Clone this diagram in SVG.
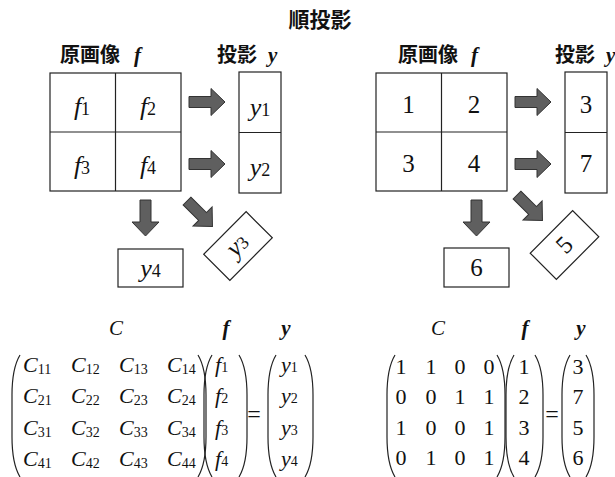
<svg xmlns="http://www.w3.org/2000/svg" width="615" height="477" viewBox="0 0 615 477">
<defs>
<style>
.cjk{font-family:"Noto Sans CJK JP","Noto Sans CJK SC",sans-serif;font-weight:bold;fill:#111}
.tm{font-family:"Liberation Serif","Times New Roman",serif;fill:#111}
.it{font-style:italic}
.bi{font-style:italic;font-weight:bold}
.sub{font-style:normal;font-size:18px}
.sm{font-style:normal;font-size:14px}
.box{fill:#fff;stroke:#222;stroke-width:1.2}
.ln{stroke:#222;stroke-width:1.2;fill:none}
.arr{fill:#5f5f5f;stroke:#333;stroke-width:1}
.par{fill:none;stroke:#222;stroke-width:1.2}
</style>
<polygon id="arrow" class="arr" points="0,-5.5 22,-5.5 22,-13.5 36,0 22,13.5 22,5.5 0,5.5"/>
</defs>
<rect width="615" height="477" fill="#fff"/>
<text class="cjk" x="320" y="27" font-size="21" text-anchor="middle">順投影</text>

<!-- Left panel -->
<g id="left-labels">
<text class="cjk" x="60" y="62" font-size="20">原画像</text>
<text class="tm bi" x="134" y="62" font-size="21">f</text>
<text class="cjk" x="217" y="62" font-size="20">投影</text>
<text class="tm bi" x="268" y="62" font-size="21">y</text>
</g>
<g id="left-grid">
<rect class="box" x="50" y="73" width="131" height="118"/>
<line class="ln" x1="115.5" y1="73" x2="115.5" y2="191"/>
<line class="ln" x1="50" y1="132" x2="181" y2="132"/>
<text class="tm it" x="82" y="115" font-size="26" text-anchor="middle">f<tspan class="sub">1</tspan></text>
<text class="tm it" x="148" y="115" font-size="26" text-anchor="middle">f<tspan class="sub">2</tspan></text>
<text class="tm it" x="82" y="174" font-size="26" text-anchor="middle">f<tspan class="sub">3</tspan></text>
<text class="tm it" x="148" y="174" font-size="26" text-anchor="middle">f<tspan class="sub">4</tspan></text>
</g>
<g id="left-y12">
<rect class="box" x="239" y="72" width="42" height="121"/>
<line class="ln" x1="239" y1="132.5" x2="281" y2="132.5"/>
<text class="tm it" x="260" y="116" font-size="26" text-anchor="middle">y<tspan class="sub">1</tspan></text>
<text class="tm it" x="260" y="176" font-size="26" text-anchor="middle">y<tspan class="sub">2</tspan></text>
</g>
<g id="left-y4">
<rect class="box" x="118" y="249" width="65" height="38"/>
<text class="tm it" x="150.5" y="277" font-size="26" text-anchor="middle">y<tspan class="sub">4</tspan></text>
</g>
<g id="left-y3" transform="translate(238,246) rotate(-45)">
<rect class="box" x="-30" y="-18.5" width="60" height="37"/>
<text class="tm it" x="0" y="7" font-size="26" text-anchor="middle">y<tspan class="sub">3</tspan></text>
</g>

<!-- Right panel -->
<g id="right-labels">
<text class="cjk" x="398" y="62" font-size="20">原画像</text>
<text class="tm bi" x="471" y="62" font-size="21">f</text>
<text class="cjk" x="555" y="62" font-size="20">投影</text>
<text class="tm bi" x="606" y="62" font-size="21">y</text>
</g>
<g id="right-grid">
<rect class="box" x="376" y="73" width="131" height="118"/>
<line class="ln" x1="441.5" y1="73" x2="441.5" y2="191"/>
<line class="ln" x1="376" y1="132" x2="507" y2="132"/>
<text class="tm" x="408.5" y="113" font-size="25" text-anchor="middle">1</text>
<text class="tm" x="474" y="113" font-size="25" text-anchor="middle">2</text>
<text class="tm" x="408.5" y="172" font-size="25" text-anchor="middle">3</text>
<text class="tm" x="474" y="172" font-size="25" text-anchor="middle">4</text>
</g>
<g id="right-y12">
<rect class="box" x="565" y="72" width="42" height="121"/>
<line class="ln" x1="565" y1="132.5" x2="607" y2="132.5"/>
<text class="tm" x="586" y="113" font-size="25" text-anchor="middle">3</text>
<text class="tm" x="586" y="172" font-size="25" text-anchor="middle">7</text>
</g>
<g id="right-y4">
<rect class="box" x="444" y="248" width="65" height="39"/>
<text class="tm" x="476.5" y="276" font-size="25" text-anchor="middle">6</text>
</g>
<g id="right-y3" transform="translate(564.5,245) rotate(-45)">
<rect class="box" x="-30" y="-18.5" width="60" height="37"/>
<text class="tm" x="0" y="8" font-size="25" text-anchor="middle">5</text>
</g>

<g id="connectors">
<use href="#arrow" transform="translate(189,102)"/>
<use href="#arrow" transform="translate(189,164)"/>
<use href="#arrow" transform="translate(145.5,200) rotate(90)"/>
<use href="#arrow" transform="translate(187,201) rotate(45)"/>
<use href="#arrow" transform="translate(515,102)"/>
<use href="#arrow" transform="translate(515,164)"/>
<use href="#arrow" transform="translate(476.5,200) rotate(90)"/>
<use href="#arrow" transform="translate(517,195) rotate(45)"/>
</g>

<!-- Left equation -->
<g id="left-eq">
<text class="tm it" x="116" y="335" font-size="21" text-anchor="middle">C</text>
<text class="tm bi" x="226" y="335" font-size="21" text-anchor="middle">f</text>
<text class="tm bi" x="286" y="335" font-size="21" text-anchor="middle">y</text>
<path class="par" d="M20,355 C14,365 12,380 12,395 L12,437 C12,452 14,467 20,477"/>
<path class="par" d="M198,355 C204,365 206,380 206,395 L206,437 C206,452 204,467 198,477"/>
<path class="par" d="M212,355 C206,365 204,380 204,395 L204,437 C204,452 206,467 212,477"/>
<path class="par" d="M239,355 C245,365 247,380 247,395 L247,437 C247,452 245,467 239,477"/>
<path class="par" d="M276,355 C270,365 268,380 268,395 L268,437 C268,452 270,467 276,477"/>
<path class="par" d="M305,355 C311,365 313,380 313,395 L313,437 C313,452 311,467 305,477"/>
<text class="tm" x="254" y="422" font-size="24" text-anchor="middle">=</text>
<g class="tm it" font-size="22">
<text x="23" y="372">C<tspan class="sm" dy="2">11</tspan></text>
<text x="71" y="372">C<tspan class="sm" dy="2">12</tspan></text>
<text x="119" y="372">C<tspan class="sm" dy="2">13</tspan></text>
<text x="167" y="372">C<tspan class="sm" dy="2">14</tspan></text>
<text x="23" y="403">C<tspan class="sm" dy="2">21</tspan></text>
<text x="71" y="403">C<tspan class="sm" dy="2">22</tspan></text>
<text x="119" y="403">C<tspan class="sm" dy="2">23</tspan></text>
<text x="167" y="403">C<tspan class="sm" dy="2">24</tspan></text>
<text x="23" y="435">C<tspan class="sm" dy="2">31</tspan></text>
<text x="71" y="435">C<tspan class="sm" dy="2">32</tspan></text>
<text x="119" y="435">C<tspan class="sm" dy="2">33</tspan></text>
<text x="167" y="435">C<tspan class="sm" dy="2">34</tspan></text>
<text x="23" y="466">C<tspan class="sm" dy="2">41</tspan></text>
<text x="71" y="466">C<tspan class="sm" dy="2">42</tspan></text>
<text x="119" y="466">C<tspan class="sm" dy="2">43</tspan></text>
<text x="167" y="466">C<tspan class="sm" dy="2">44</tspan></text>
<text x="215" y="372">f<tspan class="sm">1</tspan></text>
<text x="215" y="403">f<tspan class="sm">2</tspan></text>
<text x="215" y="435">f<tspan class="sm">3</tspan></text>
<text x="215" y="466">f<tspan class="sm">4</tspan></text>
<text x="281" y="372">y<tspan class="sm">1</tspan></text>
<text x="281" y="403">y<tspan class="sm">2</tspan></text>
<text x="281" y="435">y<tspan class="sm">3</tspan></text>
<text x="281" y="466">y<tspan class="sm">4</tspan></text>
</g>
</g>

<!-- Right equation -->
<g id="right-eq">
<text class="tm it" x="438" y="335" font-size="21" text-anchor="middle">C</text>
<text class="tm bi" x="525" y="335" font-size="21" text-anchor="middle">f</text>
<text class="tm bi" x="581" y="335" font-size="21" text-anchor="middle">y</text>
<path class="par" d="M395,355 C389,365 387,380 387,395 L387,437 C387,452 389,467 395,477"/>
<path class="par" d="M497,355 C503,365 505,380 505,395 L505,437 C505,452 503,467 497,477"/>
<path class="par" d="M514,355 C508,365 506,380 506,395 L506,437 C506,452 508,467 514,477"/>
<path class="par" d="M535,355 C541,365 543,380 543,395 L543,437 C543,452 541,467 535,477"/>
<path class="par" d="M570,355 C564,365 562,380 562,395 L562,437 C562,452 564,467 570,477"/>
<path class="par" d="M586,355 C592,365 594,380 594,395 L594,437 C594,452 592,467 586,477"/>
<text class="tm" x="552" y="422" font-size="24" text-anchor="middle">=</text>
<g class="tm" font-size="22" text-anchor="middle">
<text x="401" y="374">1</text><text x="431" y="374">1</text><text x="460" y="374">0</text><text x="489" y="374">0</text>
<text x="401" y="404">0</text><text x="431" y="404">0</text><text x="460" y="404">1</text><text x="489" y="404">1</text>
<text x="401" y="435">1</text><text x="431" y="435">0</text><text x="460" y="435">0</text><text x="489" y="435">1</text>
<text x="401" y="465">0</text><text x="431" y="465">1</text><text x="460" y="465">0</text><text x="489" y="465">1</text>
<text x="524" y="374">1</text><text x="524" y="404">2</text><text x="524" y="435">3</text><text x="524" y="465">4</text>
<text x="578" y="374">3</text><text x="578" y="404">7</text><text x="578" y="435">5</text><text x="578" y="465">6</text>
</g>
</g>
</svg>
